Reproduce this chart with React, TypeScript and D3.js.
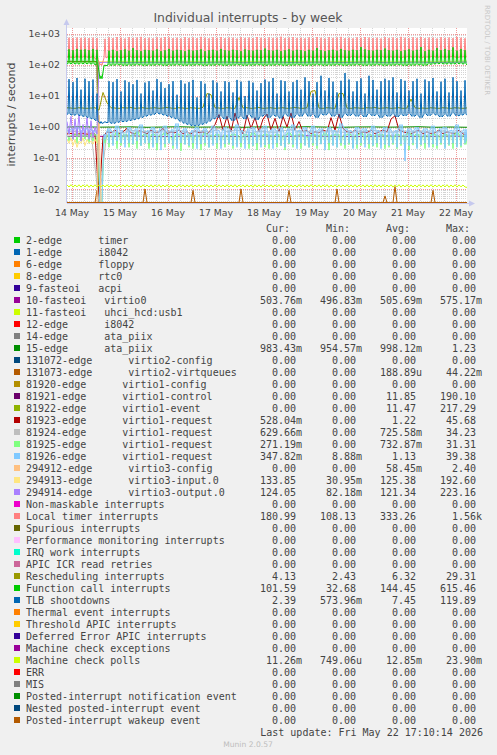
import React from "react";
import * as d3 from "d3";

const W = 497;
const H = 755;
const T0 = Date.UTC(2026, 4, 13, 21, 30);
const HOUR = 3600e3;
const SPAN_HOURS = 200;

const palette = [
  "#00CC00", "#0066B3", "#FF8000", "#FFCC00", "#330099", "#990099", "#CCFF00", "#FF0000", "#808080",
  "#008F00", "#00487D", "#B35A00", "#B38F00", "#6B006B", "#8FB300", "#B30000", "#BEBEBE", "#80FF80",
  "#80C9FF", "#FFC080", "#FFE680", "#AA80FF", "#EE00CC", "#FF8080", "#666600", "#FFBFFF", "#00FFCC",
  "#CC6699", "#999900",
];

const legendLabels = [
  "2-edge      timer",
  "1-edge      i8042",
  "6-edge      floppy",
  "8-edge      rtc0",
  "9-fasteoi   acpi",
  "10-fasteoi   virtio0",
  "11-fasteoi   uhci_hcd:usb1",
  "12-edge      i8042",
  "14-edge      ata_piix",
  "15-edge      ata_piix",
  "131072-edge      virtio2-config",
  "131073-edge      virtio2-virtqueues",
  "81920-edge      virtio1-config",
  "81921-edge      virtio1-control",
  "81922-edge      virtio1-event",
  "81923-edge      virtio1-request",
  "81924-edge      virtio1-request",
  "81925-edge      virtio1-request",
  "81926-edge      virtio1-request",
  "294912-edge      virtio3-config",
  "294913-edge      virtio3-input.0",
  "294914-edge      virtio3-output.0",
  "Non-maskable interrupts",
  "Local timer interrupts",
  "Spurious interrupts",
  "Performance monitoring interrupts",
  "IRQ work interrupts",
  "APIC ICR read retries",
  "Rescheduling interrupts",
  "Function call interrupts",
  "TLB shootdowns",
  "Thermal event interrupts",
  "Threshold APIC interrupts",
  "Deferred Error APIC interrupts",
  "Machine check exceptions",
  "Machine check polls",
  "ERR",
  "MIS",
  "Posted-interrupt notification event",
  "Nested posted-interrupt event",
  "Posted-interrupt wakeup event",
];

const curVals = [
  "0.00", "0.00", "0.00", "0.00", "0.00", "503.76m", "0.00", "0.00", "0.00", "983.43m",
  "0.00", "0.00", "0.00", "0.00", "0.00", "528.04m", "629.66m", "271.19m", "347.82m", "0.00",
  "133.85", "124.05", "0.00", "180.99", "0.00", "0.00", "0.00", "0.00", "4.13", "101.59",
  "2.39", "0.00", "0.00", "0.00", "0.00", "11.26m", "0.00", "0.00", "0.00", "0.00", "0.00",
];
const minVals = [
  "0.00", "0.00", "0.00", "0.00", "0.00", "496.83m", "0.00", "0.00", "0.00", "954.57m",
  "0.00", "0.00", "0.00", "0.00", "0.00", "0.00", "0.00", "0.00", "8.88m", "0.00",
  "30.95m", "82.18m", "0.00", "108.13", "0.00", "0.00", "0.00", "0.00", "2.43", "32.68",
  "573.96m", "0.00", "0.00", "0.00", "0.00", "749.06u", "0.00", "0.00", "0.00", "0.00", "0.00",
];
const avgVals = [
  "0.00", "0.00", "0.00", "0.00", "0.00", "505.69m", "0.00", "0.00", "0.00", "998.12m",
  "0.00", "188.89u", "0.00", "11.85", "11.47", "1.22", "725.58m", "732.87m", "1.13", "58.45m",
  "125.38", "121.34", "0.00", "333.26", "0.00", "0.00", "0.00", "0.00", "6.32", "144.45",
  "7.45", "0.00", "0.00", "0.00", "0.00", "12.85m", "0.00", "0.00", "0.00", "0.00", "0.00",
];
const maxVals = [
  "0.00", "0.00", "0.00", "0.00", "0.00", "575.17m", "0.00", "0.00", "0.00", "1.23",
  "0.00", "44.22m", "0.00", "190.10", "217.29", "45.68", "34.23", "31.31", "39.38", "2.40",
  "192.60", "223.16", "0.00", "1.56k", "0.00", "0.00", "0.00", "0.00", "29.31", "615.46",
  "119.89", "0.00", "0.00", "0.00", "0.00", "23.90m", "0.00", "0.00", "0.00", "0.00", "0.00",
];

const yTickValues = [1e3, 1e2, 1e1, 1, 1e-1, 1e-2];
const yTickLabels = ["1e+03", "1e+02", "1e+01", "1e+00", "1e-01", "1e-02"];

// ---- spiky series: one spike sample and a flat trough per 2-hour cycle (100 cycles) ----
const localPeaks = [
  760, 740, 770, 750, 760, 745, 760, 740, 110, 700,
  780, 740, 800, 760, 720, 790, 750, 770, 810, 740,
  760, 730, 780, 750, 800, 770, 740, 760, 720, 790,
  750, 770, 740, 810, 760, 730, 780, 750, 800, 740,
  770, 760, 720, 790, 750, 770, 740, 800, 760, 730,
  780, 750, 760, 820, 740, 770, 790, 750, 760, 730,
  780, 740, 800, 760, 720, 790, 750, 770, 810, 740,
  760, 730, 780, 750, 800, 770, 740, 760, 720, 790,
  750, 770, 740, 810, 760, 730, 780, 750, 800, 740,
  770, 760, 720, 790, 750, 770, 740, 800, 760, 730,
];
const localTroughs = [
  180, 175, 182, 178, 185, 176, 180, 150, 100, 170,
  182, 178, 185, 176, 180, 188, 175, 182, 179, 184,
  176, 183, 180, 186, 178, 181, 175, 184, 179, 182,
  185, 177, 181, 179, 186, 174, 182, 180, 178, 185,
  179, 184, 176, 182, 180, 187, 178, 181, 175, 183,
  181, 178, 186, 175, 183, 180, 179, 185, 177, 182,
  184, 176, 180, 182, 178, 186, 175, 183, 181, 179,
  177, 185, 179, 181, 184, 176, 182, 180, 186, 178,
  183, 179, 182, 176, 180, 185, 178, 184, 175, 181,
  180, 186, 177, 183, 179, 182, 185, 176, 181, 184,
];

const functionPeaks = [
  320, 300, 330, 310, 320, 300, 330, 310, 45, 100,
  290, 310, 280, 300, 320, 290, 350, 300, 280, 310,
  300, 290, 320, 280, 300, 330, 290, 310, 300, 280,
  310, 290, 300, 320, 280, 300, 310, 290, 330, 300,
  290, 310, 300, 280, 320, 300, 290, 310, 300, 340,
  300, 290, 310, 280, 300, 320, 290, 310, 300, 280,
  310, 290, 350, 300, 280, 300, 310, 290, 330, 300,
  290, 310, 300, 380, 320, 300, 290, 310, 300, 340,
  300, 290, 310, 280, 300, 320, 290, 310, 380, 280,
  310, 290, 350, 300, 330, 300, 370, 290, 330, 300,
];
const functionTroughs = [
  110, 112, 108, 110, 112, 110, 108, 100, 36, 95,
  100, 98, 102, 100, 97, 100, 98, 102, 100, 97,
  100, 98, 102, 100, 97, 100, 98, 102, 100, 97,
  100, 98, 102, 100, 97, 100, 98, 102, 100, 97,
  100, 98, 102, 100, 97, 100, 98, 102, 100, 97,
  100, 98, 102, 100, 97, 100, 98, 102, 100, 97,
  100, 98, 102, 100, 97, 100, 98, 102, 100, 97,
  100, 98, 102, 100, 97, 100, 98, 102, 100, 97,
  100, 98, 102, 100, 97, 100, 98, 102, 100, 97,
  105, 108, 110, 112, 108, 110, 108, 112, 110, 108,
];

const tlbPeaks = [
  35, 28, 38, 16, 36, 30, 34, 12, 1.5, 1.5,
  30, 28, 35, 14, 32, 28, 24, 33, 12, 27,
  30, 15, 35, 28, 18, 24, 30, 11, 32, 25,
  28, 33, 9, 30, 25, 12, 32, 27, 14, 30,
  28, 13, 33, 29, 10, 31, 27, 15, 26, 34,
  29, 38, 12, 32, 30, 14, 28, 33, 16, 40,
  30, 12, 28, 45, 15, 38, 29, 13, 31, 55,
  34, 14, 30, 37, 12, 45, 33, 16, 30, 36,
  32, 40, 13, 35, 31, 15, 30, 36, 12, 34,
  30, 38, 14, 29, 36, 13, 40, 30, 15, 32,
];
const tlbTroughs = [
  2.6, 2.4, 2.5, 2.3, 2.2, 2.0, 1.8, 1.6, 1.3, 1.4,
  1.4, 1.3, 1.4, 1.5, 1.5, 1.6, 1.7, 1.8, 2.0, 2.2,
  2.4, 2.5, 2.8, 2.6, 2.4, 2.2, 2.0, 1.8, 1.5, 1.3,
  1.2, 1.1, 1.1, 1.2, 1.3, 1.5, 1.8, 2.0, 2.2, 1.8,
  2.0, 1.6, 1.9, 2.2, 1.8, 2.5, 2.0, 1.7, 2.2, 2.4,
  2.0, 2.4, 2.2, 1.9, 2.6, 2.2, 2.0, 2.5, 2.2, 2.8,
  2.2, 2.5, 2.0, 2.6, 2.4, 2.8, 2.2, 2.5, 2.0, 2.6,
  2.3, 2.6, 2.2, 2.5, 2.1, 2.7, 2.3, 2.5, 2.0, 2.4,
  2.2, 2.6, 2.1, 2.5, 2.3, 2.7, 2.2, 2.4, 2.0, 2.6,
  2.3, 2.7, 2.4, 2.1, 2.5, 2.2, 2.8, 2.3, 2.4, 2.6,
];

// light blue virtio1-request: level and downward spike per cycle
const req81926Level = [
  0.8, 0.9, 1.0, 0.8, 0.9, 0.85, 0.8, 0.7, 0, 0.6,
  0.9, 0.7, 1.1, 0.8, 0.6, 1.0, 0.75, 0.9, 1.2, 0.7,
  0.8, 1.0, 0.65, 0.9, 1.1, 0.7, 0.85, 1.3, 0.7, 0.9,
  0.6, 0.8, 1.0, 0.7, 0.9, 0.65, 1.1, 0.8, 0.7, 1.0,
  0.85, 0.7, 1.2, 0.8, 0.6, 0.9, 1.0, 0.7, 0.85, 1.1,
  0.7, 0.9, 0.8, 1.0, 0.65, 0.9, 1.2, 0.75, 0.8, 1.0,
  0.7, 1.1, 0.8, 0.9, 0.6, 1.0, 0.8, 0.7, 1.3, 0.9,
  0.8, 0.7, 1.0, 0.85, 0.9, 0.65, 1.1, 0.8, 0.7, 1.0,
  0.9, 0.7, 0.8, 1.2, 0.6, 0.9, 0.8, 1.0, 0.7, 0.9,
  0.8, 1.1, 0.7, 0.9, 1.0, 0.75, 0.8, 1.2, 0.7, 0.85,
];
const req81926Dip = [
  0.6, 0.7, 0.6, 0.5, 0.6, 0.5, 0.6, 0.5, 0, 0.4,
  0.3, 0.25, 0.35, 0.3, 0.22, 0.3, 0.28, 0.35, 0.25, 0.3,
  0.3, 0.22, 0.3, 0.18, 0.28, 0.3, 0.25, 0.2, 0.3, 0.27,
  0.25, 0.3, 0.2, 0.28, 0.3, 0.22, 0.25, 0.3, 0.2, 0.28,
  0.3, 0.25, 0.22, 0.3, 0.2, 0.28, 0.25, 0.3, 0.22, 0.26,
  0.28, 0.2, 0.3, 0.25, 0.22, 0.3, 0.27, 0.2, 0.3, 0.25,
  0.22, 0.3, 0.25, 0.28, 0.18, 0.3, 0.25, 0.22, 0.3, 0.26,
  0.3, 0.2, 0.27, 0.3, 0.22, 0.28, 0.25, 0.3, 0.2, 0.27,
  0.25, 0.3, 0.22, 0.28, 0.08, 0.25, 0.3, 0.2, 0.27, 0.3,
  0.22, 0.28, 0.25, 0.3, 0.2, 0.27, 0.3, 0.22, 0.25, 0.3,
];

// light green virtio1-request
const req81925Level = [
  0.5, 0.55, 0.6, 0.5, 0.55, 0.5, 0.6, 0.55, 0, 0.45,
  0.55, 0.5, 0.65, 0.45, 0.6, 0.5, 0.55, 0.7, 0.5, 0.6,
  0.45, 0.6, 0.5, 0.55, 0.65, 0.5, 0.45, 0.6, 0.55, 0.5,
  0.6, 0.45, 0.55, 0.5, 0.65, 0.55, 0.5, 0.6, 0.45, 0.55,
  0.5, 0.6, 0.55, 0.45, 0.6, 0.5, 0.65, 0.55, 0.5, 0.6,
  0.55, 0.5, 0.6, 0.45, 0.55, 0.65, 0.5, 0.55, 0.6, 0.5,
  0.45, 0.6, 0.55, 0.5, 0.65, 0.5, 0.55, 0.6, 0.45, 0.55,
  0.6, 0.5, 0.55, 0.65, 0.45, 0.6, 0.5, 0.55, 0.6, 0.5,
  0.55, 0.45, 0.6, 0.5, 0.55, 0.65, 0.5, 0.6, 0.45, 0.55,
  0.5, 0.6, 0.55, 0.45, 0.6, 0.5, 0.55, 0.65, 0.5, 0.55,
];
const req81925Dip = [
  0.35, 0.4, 0.3, 0.35, 0.4, 0.3, 0.35, 0.3, 0, 0.3,
  0.22, 0.28, 0.2, 0.25, 0.3, 0.22, 0.27, 0.2, 0.25, 0.3,
  0.2, 0.25, 0.18, 0.27, 0.22, 0.3, 0.2, 0.25, 0.17, 0.28,
  0.22, 0.2, 0.26, 0.18, 0.25, 0.22, 0.28, 0.2, 0.25, 0.22,
  0.27, 0.2, 0.25, 0.22, 0.3, 0.2, 0.24, 0.18, 0.26, 0.22,
  0.2, 0.27, 0.22, 0.25, 0.18, 0.28, 0.22, 0.25, 0.2, 0.26,
  0.22, 0.25, 0.2, 0.28, 0.22, 0.18, 0.26, 0.22, 0.25, 0.2,
  0.27, 0.22, 0.2, 0.25, 0.28, 0.2, 0.24, 0.22, 0.26, 0.2,
  0.22, 0.27, 0.2, 0.25, 0.22, 0.18, 0.26, 0.22, 0.25, 0.2,
  0.26, 0.22, 0.2, 0.27, 0.22, 0.25, 0.2, 0.24, 0.22, 0.27,
];

// hourly samples, milli units
const mcPollsMilli = [
  13.6, 11.6, 13.8, 11.5, 13.5, 11.7, 13.7, 11.5, 13.6, 11.6, 13.8, 11.4, 13.5, 11.6, 13.7, 11.5, 13.6, 11.7, 13.5, 11.6,
  13.7, 11.5, 13.6, 11.6, 13.8, 11.5, 13.5, 11.7, 13.6, 11.5, 13.7, 11.6, 13.5, 11.4, 13.8, 11.6, 13.6, 11.5, 13.7, 11.6,
  13.5, 11.6, 13.7, 11.5, 13.6, 11.7, 13.8, 11.5, 13.5, 11.6, 13.7, 11.4, 13.6, 11.6, 13.5, 11.5, 13.8, 11.7, 13.6, 11.5,
  13.6, 11.6, 13.8, 11.5, 13.5, 11.7, 13.7, 11.5, 13.6, 11.6, 13.8, 11.4, 13.5, 11.6, 13.7, 11.5, 13.6, 11.7, 13.5, 11.6,
  13.7, 11.5, 13.6, 11.6, 13.8, 11.5, 13.5, 11.7, 13.6, 11.5, 13.7, 11.6, 13.5, 11.4, 13.8, 11.6, 13.6, 11.5, 13.7, 11.6,
  13.5, 11.6, 13.7, 11.5, 13.6, 11.7, 13.8, 11.5, 13.5, 11.6, 13.7, 11.4, 13.6, 11.6, 13.5, 11.5, 13.8, 11.7, 13.6, 11.5,
  13.6, 11.6, 13.8, 11.5, 13.5, 11.7, 13.7, 11.5, 13.6, 11.6, 13.8, 11.4, 13.5, 11.6, 13.7, 11.5, 13.6, 11.7, 13.5, 11.6,
  13.7, 11.5, 13.6, 11.6, 13.8, 11.5, 13.5, 11.7, 13.6, 11.5, 13.7, 11.6, 13.5, 11.4, 13.8, 11.6, 13.6, 11.5, 13.7, 11.6,
  13.5, 11.6, 13.7, 11.5, 13.6, 11.7, 13.8, 11.5, 13.5, 11.6, 13.7, 11.4, 13.6, 11.6, 13.5, 11.5, 13.8, 11.7, 13.6, 11.5,
  13.6, 11.6, 13.8, 11.5, 13.5, 11.7, 13.7, 11.5, 13.6, 11.6, 13.8, 11.4, 13.5, 11.6, 13.7, 11.5, 13.6, 11.7, 13.5, 11.6,
  11.26,
];

// every 2 hours
const rescheduling2h = [
  4.2, 4.1, 4.0, 4.2, 4.1, 4.0, 4.1, 4.2, 3.5, 13,
  6, 4.2, 4.1, 4.0, 4.2, 4.1, 4.3, 4.0, 4.1, 4.2,
  4.0, 4.1, 4.2, 4.0, 4.1, 4.3, 4.1, 4.0, 4.2, 4.1,
  4.0, 4.2, 4.1, 4.0, 4.3, 12, 11, 4.2, 4.1, 4.0,
  4.2, 4.1, 4.0, 9, 4.1, 4.2, 4.0, 4.1, 4.3, 4.0,
  4.1, 4.2, 4.0, 4.1, 4.2, 4.0, 4.1, 4.3, 4.1, 4.0,
  4.2, 14, 15, 4.1, 4.0, 4.2, 4.1, 4.0, 12, 12,
  4.1, 4.0, 4.2, 4.1, 4.0, 4.2, 4.1, 4.3, 4.0, 4.1,
  4.2, 4.0, 4.1, 4.2, 4.0, 4.1, 8, 4.2, 4.0, 4.1,
  4.0, 4.2, 4.1, 4.0, 4.2, 4.1, 4.0, 4.2, 4.1, 4.0, 4.13,
];

const req81923_2h = [
  0.6, 0.62, 0.58, 0.6, 0.61, 0.59, 0.6, 0.6, 0, 0.5,
  0.7, 0.65, 0.8, 0.6, 0.7, 0.9, 0.65, 0.6, 0.75, 0.7,
  0.6, 0.8, 0.65, 0.7, 0.9, 0.6, 0.7, 0.65, 0.8, 0.6,
  0.7, 0.6, 0.75, 0.65, 0.7, 0.6, 0.8, 1.2, 2.5, 0.8,
  2.2, 0.7, 2.8, 1.0, 0.6, 2.4, 0.9, 2.0, 0.7, 1.8,
  2.6, 0.8, 1.9, 0.7, 2.2, 1.0, 2.8, 0.8, 1.5, 0.7,
  0.8, 0.6, 0.7, 0.65, 0.8, 0.7, 2.0, 0.8, 2.6, 0.9,
  0.7, 0.65, 0.8, 0.6, 0.7, 0.65, 0.8, 0.6, 0.7, 0.8,
  0.7, 1.8, 2.3, 0.8, 0.7, 0.65, 0.6, 0.7, 0.8, 0.6,
  0.7, 0.6, 0.65, 0.8, 0.6, 0.7, 0.65, 0.6, 0.8, 0.6, 0.53,
];

// every 4 hours
const req81924_4h = [
  0.7, 0.72, 0.68, 0.7, 0, 0.75, 0.7, 0.65, 0.8, 0.7,
  0.72, 0.68, 0.75, 0.7, 0.8, 0.65, 0.7, 0.75, 0.68, 0.9,
  0.7, 0.8, 0.72, 0.66, 0.74, 0.7, 0.68, 0.75, 0.82, 0.7,
  0.72, 0.68, 0.7, 0.75, 0.7, 0.66, 0.74, 0.7, 0.8, 0.72,
  0.68, 0.7, 0.75, 0.7, 0.72, 0.68, 0.7, 0.74, 0.66, 0.7, 0.63,
];

// every 8 hours
const edge15_8h = [
  1.0, 1.02, 0.99, 1.0, 1.01, 0.98, 1.0, 1.02, 0.99, 1.0, 1.0, 0.98, 1.01,
  1.0, 0.99, 1.02, 1.0, 0.98, 1.0, 1.01, 0.99, 1.0, 1.02, 0.98, 1.0, 0.98,
];
const fasteoi10_8h = [
  0.5, 0.51, 0.5, 0.5, 0.52, 0.5, 0.49, 0.5, 0.51, 0.5, 0.5, 0.49, 0.51,
  0.5, 0.5, 0.52, 0.5, 0.5, 0.49, 0.5, 0.51, 0.5, 0.5, 0.5, 0.51, 0.5,
];

// sparse [hour, value]
const ctl81921 = [
  [0, 131], [1, 129], [2, 132], [3, 128], [4, 130], [5, 131], [6, 129], [7, 132], [8, 130],
  [9, 128], [10, 131], [11, 130], [12, 129], [13, 132], [14, 130], [15, 128], [16, 0], [200, 0],
];
const evt81922 = [
  [0, 128], [1, 126], [2, 129], [3, 125], [4, 127], [5, 128], [6, 126], [7, 129], [8, 127],
  [9, 125], [10, 128], [11, 127], [12, 126], [13, 129], [14, 127], [15, 125], [16, 0], [200, 0],
];
const cfg294912 = [[0, 0], [15, 0], [16, 2.4], [17, 0], [200, 0]];
const in294913 = [
  [0, 0.4], [1, 0.3], [2, 0.45], [3, 0.25], [4, 0.4], [5, 0.22], [6, 0.35], [7, 0.3], [8, 0.45],
  [9, 0.25], [10, 0.4], [11, 0.3], [12, 0.35], [13, 0.28], [14, 0.4], [15, 0.3],
  [16, 128], [24, 131], [32, 127], [40, 130], [48, 126], [56, 132], [64, 129], [72, 127], [80, 131],
  [88, 128], [96, 130], [104, 126], [112, 129], [120, 131], [128, 127], [136, 130], [144, 128],
  [152, 132], [160, 126], [168, 129], [176, 131], [184, 127], [192, 130], [200, 133.85],
];
const out294914 = [
  [0, 1.5], [1, 0.6], [2, 2.2], [3, 0.4], [4, 1.8], [5, 0.5], [6, 2.5], [7, 0.35], [8, 1.2],
  [9, 0.5], [10, 2.0], [11, 0.4], [12, 1.6], [13, 0.45], [14, 1.0], [15, 0.6],
  [16, 120], [24, 123], [32, 119], [40, 122], [48, 121], [56, 124], [64, 120], [72, 122], [80, 123],
  [88, 119], [96, 121], [104, 124], [112, 120], [120, 122], [128, 123], [136, 120], [144, 121],
  [152, 124], [160, 119], [168, 122], [176, 123], [184, 120], [192, 122], [200, 124.05],
];
const vq131073 = [
  [0, 0], [14, 0], [15, 0.009], [16, 0], [38, 0], [39, 0.01], [40, 0], [62, 0], [63, 0.009],
  [64, 0], [86, 0], [87, 0.01], [88, 0], [110, 0], [111, 0.009], [112, 0], [134, 0], [135, 0.01],
  [136, 0], [158, 0], [159, 0.006], [160, 0], [163, 0], [164, 0.012], [165, 0], [182, 0],
  [183, 0.009], [184, 0], [200, 0],
];
const zeroLine = [[0, 0], [200, 0]];

const dense = (values: number[], step: number) => values.map((v, i) => [i * step, v]);

// each 2-hour cycle k: level at 2k+0.5, spike at 2k+1, level at 2k+1.5
function cycles(spikes: number[], levels: number[], last: number): number[][] {
  const pts: number[][] = [[0, levels[0]]];
  spikes.forEach((s, k) => {
    pts.push([2 * k + 0.5, levels[k]], [2 * k + 1, s], [2 * k + 1.5, levels[k]]);
  });
  pts.push([SPAN_HOURS, last]);
  return pts;
}

function seriesFor(i: number): number[][] {
  switch (i) {
    case 5: return dense(fasteoi10_8h, 8);
    case 9: return dense(edge15_8h, 8);
    case 11: return vq131073;
    case 13: return ctl81921;
    case 14: return evt81922;
    case 15: return dense(req81923_2h, 2);
    case 16: return dense(req81924_4h, 4);
    case 17: return cycles(req81925Dip, req81925Level, 0.271);
    case 18: return cycles(req81926Dip, req81926Level, 0.348);
    case 19: return cfg294912;
    case 20: return in294913;
    case 21: return out294914;
    case 23: return cycles(localPeaks, localTroughs, 180.99);
    case 28: return dense(rescheduling2h, 2);
    case 29: return cycles(functionPeaks, functionTroughs, 101.59);
    case 30: return cycles(tlbPeaks, tlbTroughs, 2.39);
    case 35: return dense(mcPollsMilli.map((v) => v / 1000), 1);
    default: return zeroLine;
  }
}

const PX0 = 67, PX1 = 467, PY0 = 28, PY1 = 203;

export default function App() {
  const x = d3.scaleUtc().domain([new Date(T0), new Date(T0 + SPAN_HOURS * HOUR)]).range([PX0, PX1]);
  const y = d3.scaleLog().domain([Math.pow(10, -2.4516), Math.pow(10, 3.1935)]).range([PY1, PY0]);
  const yv = (v: number) => (v <= 0 ? PY1 - 0.5 : Math.min(PY1 - 0.5, y(v)));
  const line = d3
    .line<number[]>()
    .x((d) => x(new Date(T0 + d[0] * HOUR)))
    .y((d) => yv(d[1]));

  const minorY: number[] = [];
  for (let k = -3; k <= 3; k++) {
    for (let m = 2; m <= 9; m++) {
      const v = m * Math.pow(10, k);
      const py = y(v);
      if (py > PY0 && py < PY1) minorY.push(py);
    }
  }
  const majorY = yTickValues.map((v) => y(v));
  const domain = x.domain();
  const minorX = d3.utcHour.every(6)!.range(domain[0], domain[1]).map((d) => x(d));
  const dayTicks = d3.utcDay.range(domain[0], domain[1]);
  const fmt = d3.utcFormat("%d %b");

  const mono = "'DejaVu Sans Mono', monospace";
  const sans = "'DejaVu Sans', sans-serif";
  const txt = "#444";
  const colEnds = [296, 356, 416, 476];
  const valueCols = [curVals, minVals, avgVals, maxVals];

  const splitVal = (s: string) => {
    const last = s[s.length - 1];
    if (/[a-zA-Z]/.test(last)) return [s.slice(0, -1), last];
    return [s, ""];
  };

  return (
    <svg width={W} height={H} style={{ position: "absolute", left: 0, top: 0, display: "block" }}>
      <defs>
        <clipPath id="plotclip">
          <rect x={PX0} y={PY0} width={PX1 - PX0} height={PY1 - PY0} />
        </clipPath>
      </defs>
      <rect x={0} y={0} width={W} height={H} fill="#F0F0F0" />
      <rect x={PX0} y={PY0} width={PX1 - PX0} height={PY1 - PY0} fill="#FFFFFF" />

      {/* grid */}
      <g strokeWidth={1} strokeDasharray="1,1" fill="none" shapeRendering="crispEdges">
        {minorY.map((py, i) => (
          <line key={"my" + i} x1={PX0} x2={PX1} y1={Math.round(py) + 0.5} y2={Math.round(py) + 0.5} stroke="#d4d4d4" />
        ))}
        {minorX.map((px, i) => (
          <line key={"mx" + i} x1={Math.round(px) + 0.5} x2={Math.round(px) + 0.5} y1={PY0} y2={PY1} stroke="#d4d4d4" />
        ))}
        {majorY.map((py, i) => (
          <line key={"My" + i} x1={PX0} x2={PX1} y1={Math.round(py) + 0.5} y2={Math.round(py) + 0.5} stroke="#ef9a9a" />
        ))}
        {dayTicks.map((d, i) => (
          <line key={"Mx" + i} x1={Math.round(x(d)) + 0.5} x2={Math.round(x(d)) + 0.5} y1={PY0} y2={PY1} stroke="#ef9a9a" />
        ))}
      </g>

      {/* series */}
      <g clipPath="url(#plotclip)" fill="none" strokeWidth={1}>
        {legendLabels.map((_, i) => (
          <path key={"s" + i} d={line(seriesFor(i)) || ""} stroke={palette[i % palette.length]} />
        ))}
      </g>

      {/* axes */}
      <g stroke="#c6c9ee" strokeWidth={1}>
        <line x1={PX0 - 0.5} x2={PX0 - 0.5} y1={PY1} y2={PY0 - 4} />
        <line x1={PX0} x2={PX1 + 3} y1={PY1 + 0.5} y2={PY1 + 0.5} />
      </g>
      <path d={`M${PX0 - 3.5},${PY0 - 3} L${PX0 - 0.5},${PY0 - 9} L${PX0 + 2.5},${PY0 - 3} Z`} fill="#c6c9ee" />
      <path d={`M${PX1 + 2},${PY1 - 2.5} L${PX1 + 8},${PY1 + 0.5} L${PX1 + 2},${PY1 + 3.5} Z`} fill="#c6c9ee" />

      {/* y tick labels */}
      {yTickValues.map((v, i) => (
        <text key={"yl" + i} x={60} y={y(v) + 3.5} textAnchor="end" fontFamily={sans} fontSize={9.4} fill={txt}>
          {yTickLabels[i]}
        </text>
      ))}
      {/* x tick labels */}
      {dayTicks.map((d, i) => (
        <text key={"xl" + i} x={x(d)} y={215.5} textAnchor="middle" fontFamily={sans} fontSize={9.3} fill={txt}>
          {fmt(d)}
        </text>
      ))}

      {/* titles */}
      <text x={248} y={22} textAnchor="middle" fontFamily={sans} fontSize={12.4} fill="#555">
        Individual interrupts - by week
      </text>
      <text
        transform="translate(14.5,114.5) rotate(-90)"
        textAnchor="middle"
        fontFamily={sans}
        fontSize={11}
        fill={txt}
      >
        interrupts / second
      </text>
      <text transform="translate(485,5) rotate(90)" fontFamily={sans} fontSize={7} fill="#c8c8c8">
        RRDTOOL / TOBI OETIKER
      </text>

      {/* legend header */}
      {["Cur:", "Min:", "Avg:", "Max:"].map((h, i) => (
        <text key={"h" + i} x={colEnds[i] - 6} y={231.5} textAnchor="end" fontFamily={mono} fontSize={10} fill={txt}>
          {h}
        </text>
      ))}

      {/* legend rows */}
      {legendLabels.map((lab, i) => {
        const by = 243.5 + 12 * i;
        return (
          <g key={"lg" + i}>
            <rect x={14} y={by - 6.5} width={6} height={6} fill={palette[i % palette.length]} />
            <text x={26} y={by} fontFamily={mono} fontSize={10} fill={txt} style={{ whiteSpace: "pre" }}>
              {lab}
            </text>
            {valueCols.map((col, c) => {
              const [num, suf] = splitVal(col[i]);
              return (
                <g key={"v" + c}>
                  <text x={colEnds[c]} y={by} textAnchor="end" fontFamily={mono} fontSize={10} fill={txt}>
                    {num}
                  </text>
                  {suf && (
                    <text x={colEnds[c]} y={by} fontFamily={mono} fontSize={10} fill={txt}>
                      {suf}
                    </text>
                  )}
                </g>
              );
            })}
          </g>
        );
      })}

      <text x={483} y={735.5} textAnchor="end" fontFamily={mono} fontSize={10} fill={txt}>
        Last update: Fri May 22 17:10:14 2026
      </text>
      <text x={248} y={747} textAnchor="middle" fontFamily={sans} fontSize={7.6} fill="#bdbdbd">
        Munin 2.0.57
      </text>
    </svg>
  );
}
